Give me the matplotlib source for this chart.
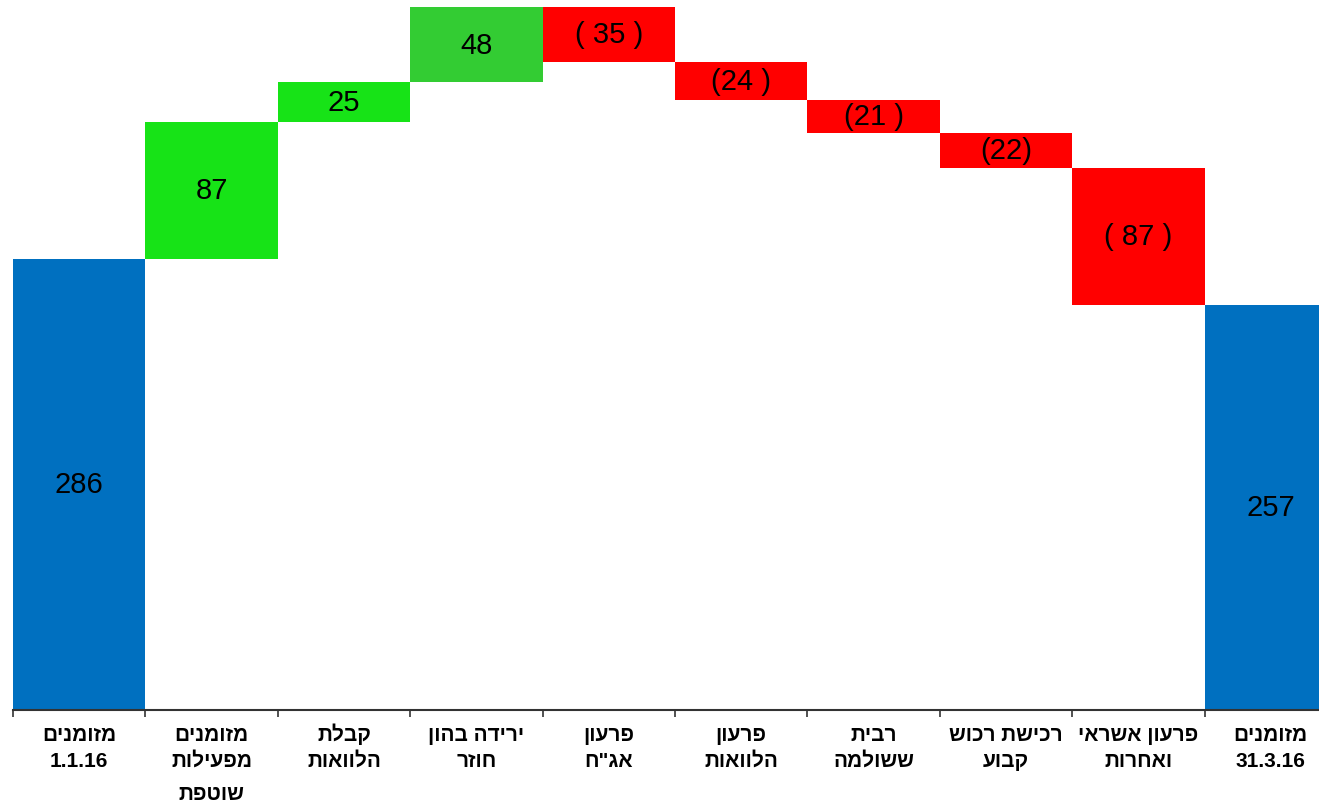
import matplotlib
matplotlib.use('Agg')
import numpy as np
from matplotlib import pyplot as plt

# waterfall data (millions)
categories = ['מזומנים\n1.1.16', 'מזומנים\nמפעילות\nשוטפת', 'קבלת\nהלוואות',
              'ירידה בהון\nחוזר', 'פרעון\nאג"ח', 'פרעון\nהלוואות',
              'רבית\nששולמה', 'רכישת רכוש\nקבוע', 'פרעון אשראי\nואחרות',
              'מזומנים\n31.3.16']
values = [286, 87, 25, 48, -35, -24, -21, -22, -87, 257]
is_total = [True, False, False, False, False, False, False, False, False, True]
value_labels = ['286', '87', '25', '48', '( 35 )', '(24 )', '(21 )', '(22)',
                '( 87 )', '257']
colors = ['#0070C0', '#17E317', '#17E317', '#33CC33', '#FF0000', '#FF0000',
          '#FF0000', '#FF0000', '#FF0000', '#0070C0']


def visual(line):
    # matplotlib has no bidi: flip the Hebrew lines by hand
    if any('\u0590' <= c <= '\u05ff' for c in line):
        return line[::-1]
    return line


bottoms = []
heights = []
running = 0
for v, tot in zip(values, is_total):
    if tot:
        bottoms.append(0)
        heights.append(v)
        running = v
    else:
        if v >= 0:
            bottoms.append(running)
        else:
            bottoms.append(running + v)
        heights.append(abs(v))
        running += v

plt.rcParams['font.family'] = ['Liberation Sans', 'DejaVu Sans']

fig = plt.figure(figsize=(13.19, 8.03), dpi=100)
ax = fig.add_axes([13 / 1319, 92 / 803, 1306 / 1319, 711 / 803])

x = np.arange(len(values))
ax.bar(x, heights, bottom=bottoms, width=1.0, color=colors, linewidth=0)

for xi, b, h, lab in zip(x, bottoms, heights, value_labels):
    ax.text(xi, b + h / 2, lab, ha='center', va='center', fontsize=21,
            color='black')

ax.set_xlim(-0.5, -0.5 + 1306 / 132.4)
ax.set_ylim(0, 711 / 1.577)

for s in ['top', 'right', 'left']:
    ax.spines[s].set_visible(False)
ax.spines['bottom'].set_color('#333333')
ax.spines['bottom'].set_linewidth(1.5)
ax.set_yticks([])

# tick marks sit on the category boundaries, labels at the centres
ax.set_xticks(np.arange(len(values)) - 0.5)
ax.set_xticklabels([])
ax.tick_params(axis='x', direction='out', length=5, width=1.2, color='#333333')

line_y = [-30 / 711, -56 / 711, -89 / 711]   # baselines below the axis
trans = ax.get_xaxis_transform()
for xi, cat in zip(x, categories):
    for k, line in enumerate(cat.split('\n')):
        ax.text(xi, line_y[k], visual(line), ha='center', va='baseline',
                fontsize=15, fontweight='bold', transform=trans,
                clip_on=False)

fig.savefig('out.png', dpi=100)
